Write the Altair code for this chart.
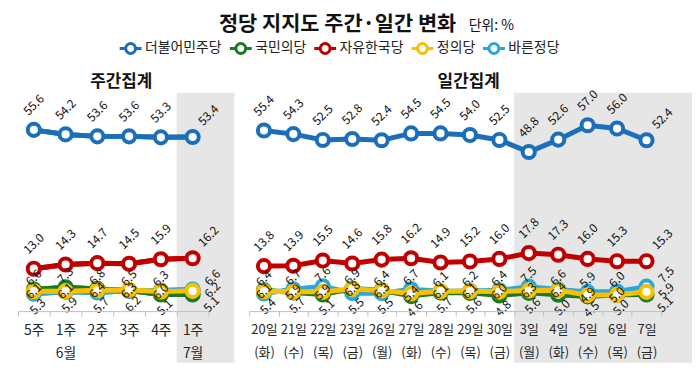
import math
import altair as alt
import pandas as pd

FONT = "Noto Sans CJK KR"

parties = ["더불어민주당", "국민의당", "자유한국당", "정의당", "바른정당"]
party_colors = ["#1b6fba", "#1a7a23", "#c00000", "#f7c000", "#2aa8de"]
draw_order = ["바른정당", "국민의당", "정의당", "자유한국당", "더불어민주당"]
minor_parties = ["국민의당", "정의당", "바른정당"]

# weekly
week_labels = ["5주", "1주|6월", "2주", "3주", "4주", "1주|7월"]
week_minjoo = [55.6, 54.2, 53.6, 53.6, 53.3, 53.4]
week_kukmin = [6.6, 7.3, 6.8, 6.3, 5.1, 5.1]
week_jayu = [13.0, 14.3, 14.7, 14.5, 15.9, 16.2]
week_jungui = [6.1, 6.1, 6.4, 6.5, 6.0, 6.2]
week_bareun = [5.3, 5.9, 5.7, 6.2, 6.3, 6.6]

# daily
day_labels = ["20일|(화)", "21일|(수)", "22일|(목)", "23일|(금)", "26일|(월)", "27일|(화)",
              "28일|(수)", "29일|(목)", "30일|(금)", "3일|(월)", "4일|(화)", "5일|(수)",
              "6일|(목)", "7일|(금)"]
day_minjoo = [55.4, 54.3, 52.5, 52.8, 52.4, 54.5, 54.5, 54.0, 52.5, 48.8, 52.6, 57.0, 56.0, 52.4]
day_kukmin = [6.4, 5.7, 5.1, 6.9, 6.4, 4.6, 5.7, 5.6, 4.8, 5.6, 5.0, 4.5, 5.0, 5.1]
day_jayu = [13.8, 13.9, 15.5, 14.6, 15.8, 16.2, 14.9, 15.2, 16.0, 17.8, 17.3, 16.0, 15.3, 15.3]
day_jungui = [6.1, 5.9, 5.9, 6.8, 6.3, 5.4, 6.1, 6.1, 6.0, 6.3, 6.4, 4.9, 5.0, 5.9]
day_bareun = [5.4, 6.7, 7.6, 5.5, 5.5, 6.7, 6.1, 6.2, 6.4, 7.5, 6.6, 5.9, 6.0, 7.5]


def long_df(labels, series):
    rows = []
    for p, vals in zip(parties, series):
        for i, (lab, v) in enumerate(zip(labels, vals)):
            rows.append(dict(x=lab, party=p, value=v, idx=i))
    df = pd.DataFrame(rows)
    minor = df.party.isin(minor_parties)
    df["grp"] = "major"
    ranks = df[minor].groupby("x")["value"].rank(ascending=False, method="first")
    df.loc[minor, "grp"] = ranks.map({1.0: "top", 2.0: "mid", 3.0: "bot"})
    df["last"] = df.idx == len(labels) - 1
    return df


week_df = long_df(week_labels, [week_minjoo, week_kukmin, week_jayu, week_jungui, week_bareun])
day_df = long_df(day_labels, [day_minjoo, day_kukmin, day_jayu, day_jungui, day_bareun])


def rot(sx, sy):
    c = math.cos(math.radians(45))
    return c * sx - c * sy, c * sx + c * sy


normal_off = {"major": (0, -25), "top": (0, -12), "mid": (0, 0), "bot": (4, 13)}
last_off = {"major": (16, -22), "top": (20, -12), "mid": (20, -1), "bot": (19, 10)}

legend_path = ("M-1,0 L-0.45,0 M0.45,0 L1,0 M0.45,0 A0.45,0.45 0 1 1 -0.45,0 "
               "A0.45,0.45 0 1 1 0.45,0")


def header(text, x, y, size, weight="normal", align="center"):
    return alt.Chart(pd.DataFrame({"t": [text]})).mark_text(
        font=FONT, fontSize=size, fontWeight=weight, align=align, baseline="middle",
        color="#111111").encode(text="t:N", x=alt.value(x), y=alt.value(y))


def panel(df, labels, width, shade_label, shade_right, headers, legend, label_size):
    xs = alt.Scale(domain=labels, paddingInner=0, paddingOuter=0)
    ys = alt.Scale(domain=[0, 67], nice=False, zero=False)
    x_axis = alt.Axis(title=None,
                      labelExpr="isValid(datum.value) ? split(datum.value, '|') : ''",
                      labelAngle=0,
                      tickBand="extent", domainColor="#bfbfbf", tickColor="#bfbfbf",
                      tickSize=5, labelFontSize=label_size, labelLineHeight=23,
                      labelPadding=8,
                      labelColor="#262626", labelFont=FONT, zindex=1, grid=False,
                      labelBaseline="top")
    X = alt.X("x:N", scale=xs, axis=x_axis)
    Y = alt.Y("value:Q", scale=ys, axis=None)
    base = alt.Chart(df)
    layers = []
    layers.append(
        base.transform_filter((alt.datum.x == shade_label) & (alt.datum.party == parties[0]))
        .mark_rect(color="#e6e6e6")
        .encode(x=alt.X("x:N", scale=xs, axis=x_axis, bandPosition=0),
                x2=alt.value(shade_right), y=alt.value(0), y2=alt.value(272))
    )
    if legend:
        layers.append(
            base.mark_line(strokeWidth=5).encode(
                x=X, y=Y,
                color=alt.Color("party:N", scale=alt.Scale(domain=parties, range=party_colors),
                                legend=alt.Legend(
                                    orient="none", legendX=101, legendY=-57,
                                    direction="horizontal", title=None,
                                    symbolType=legend_path, symbolSize=484,
                                    symbolStrokeWidth=3, symbolFillColor="white",
                                    labelFontSize=14, labelFont=FONT, labelColor="#222222",
                                    columnPadding=1, labelOffset=2, gridAlign="none")))
        )
    for p in draw_order:
        c = party_colors[parties.index(p)]
        sub = base.transform_filter(alt.datum.party == p)
        layers.append(sub.mark_line(strokeWidth=5, color=c).encode(x=X, y=Y))
        layers.append(sub.mark_point(shape="circle", filled=False, fill="white", fillOpacity=1,
                                     stroke=c, strokeWidth=4, size=150, opacity=1)
                      .encode(x=X, y=Y))
    for g in ["major", "top", "mid", "bot"]:
        for is_last, offs in [(False, normal_off), (True, last_off)]:
            dx, dy = rot(*offs[g])
            layers.append(
                base.transform_filter((alt.datum.grp == g) & (alt.datum.last == is_last))
                .mark_text(angle=315, font=FONT, fontSize=12, color="#111111",
                           align="center", baseline="middle", dx=dx, dy=dy)
                .encode(x=X, y=Y, text=alt.Text("value:Q", format=".1f"))
            )
    layers.extend(headers)
    return alt.layer(*layers).properties(width=width, height=220)


left = panel(week_df, week_labels, 192, "1주|7월", 218,
             [header("정당 지지도 주간·일간 변화", 322, -68, 21, "bold"),
              header("단위: %", 454, -67, 14, align="left"),
              header("주간집계", 104, -11, 17, "bold")],
             True, 14)
right = panel(day_df, day_labels, 415, "3일|(월)", 446,
              [header("일간집계", 221, -11, 17, "bold")],
              False, 13)

chart = alt.hconcat(left, right, spacing=41, bounds="flush").resolve_scale(
    x="independent", y="independent").configure_view(stroke=None).properties(
    padding={"left": 9, "top": 5, "right": 0, "bottom": 0})

chart.save("out.html", embed_options={"renderer": "svg", "actions": False})
